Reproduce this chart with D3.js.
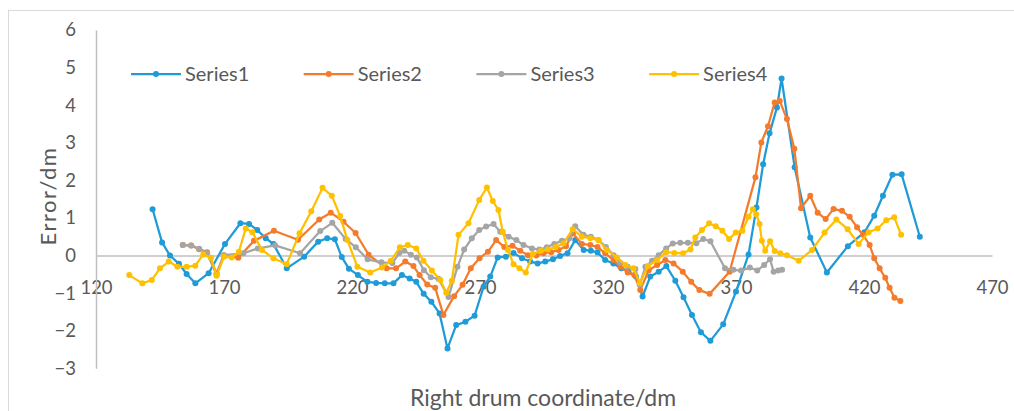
<!DOCTYPE html>
<html>
<head>
<meta charset="utf-8">
<script src="https://cdn.jsdelivr.net/npm/d3@7"></script>
<style>
  body { margin: 0; background: #fff; }
  svg { display: block; font-family: Lato, "Open Sans", sans-serif; }
</style>
</head>
<body>
<svg width="1014" height="411"></svg>
<script>
var screen = {width: 1014, height: 411}
var margin = {top: 30, right: 22, bottom: 43, left: 96}

// data
var seriesNames = ["Series1", "Series2", "Series3", "Series4"]
var xTicks = [120, 170, 220, 270, 320, 370, 420, 470]
var yTicks = [-3, -2, -1, 0, 1, 2, 3, 4, 5, 6]

var s1x = [142.1,145.8,148.9,152.4,155.4,158.8,164.0,170.4,176.4,179.8,183.0,186.3,189.3,194.5,201.3,206.8,210.3,213.3,216.0,218.8,222.3,226.0,229.4,232.8,236.2,239.5,242.5,245.1,248.0,251.0,254.2,257.3,260.7,264.3,267.9,271.4,274.0,276.9,280.1,283.1,286.4,289.6,292.5,295.5,298.5,301.3,304.2,307.2,310.5,313.3,315.9,318.9,322.1,325.2,328.0,330.9,333.5,336.5,339.8,342.8,346.3,349.5,352.8,356.3,360.0,365.0,370.0,374.9,378.0,380.6,383.1,386.0,387.8,392.9,399.0,405.5,413.7,420.2,424.0,427.4,431.1,434.7,441.8]
var s1y = [1.23,0.35,0.00,-0.22,-0.49,-0.74,-0.47,0.31,0.86,0.84,0.68,0.46,0.31,-0.34,-0.03,0.37,0.46,0.43,-0.04,-0.35,-0.52,-0.70,-0.73,-0.74,-0.74,-0.52,-0.61,-0.70,-1.02,-1.23,-1.54,-2.47,-1.85,-1.76,-1.60,-0.83,-0.56,-0.05,-0.03,0.07,-0.07,-0.16,-0.21,-0.16,-0.10,-0.01,0.06,0.41,0.15,0.13,0.08,-0.12,-0.21,-0.34,-0.43,-0.56,-1.09,-0.56,-0.43,-0.28,-0.67,-1.11,-1.58,-2.04,-2.27,-1.83,-0.96,0.03,1.28,2.43,3.25,3.94,4.71,2.35,0.48,-0.45,0.25,0.62,1.06,1.59,2.15,2.16,0.50]

var s2x = [153.9,157.2,160.3,163.4,167.1,170.0,175.6,181.7,189.5,198.9,207.2,211.7,216.7,221.4,226.5,233.5,237.2,240.8,244.0,246.4,249.4,252.5,255.7,259.9,263.2,266.4,269.8,273.1,276.3,279.5,282.7,285.7,288.7,292.0,294.8,297.8,300.7,303.6,306.3,309.8,313.1,315.9,318.9,322.2,324.8,327.7,330.3,332.6,335.9,339.2,342.4,345.6,349.2,352.5,355.7,359.7,367.5,377.6,379.9,382.5,385.1,387.1,389.9,392.8,395.4,399.0,401.9,405.0,408.1,411.4,414.4,417.3,419.6,422.2,424.0,426.1,428.3,430.0,431.9,434.2]
var s2y = [0.28,0.27,0.17,0.09,-0.47,0.01,-0.06,0.39,0.66,0.42,0.96,1.14,0.90,0.60,0.02,-0.34,-0.34,-0.16,-0.28,-0.52,-0.77,-0.86,-1.58,-1.08,-0.78,-0.34,-0.07,0.10,0.41,0.23,0.26,0.13,0.01,0.00,0.06,0.09,0.15,0.25,0.59,0.31,0.28,0.23,0.06,-0.12,-0.30,-0.45,-0.52,-0.92,-0.39,-0.25,-0.12,-0.21,-0.43,-0.70,-0.92,-1.02,-0.43,2.08,3.01,3.44,4.07,4.11,3.63,2.84,1.26,1.59,1.14,0.97,1.24,1.19,1.03,0.75,0.55,0.28,-0.07,-0.34,-0.59,-0.86,-1.12,-1.21]

var s3x = [153.9,157.1,160.3,163.4,167.1,169.8,177.6,183.2,190.0,199.7,207.6,212.3,217.5,221.5,226.1,231.5,235.8,238.5,240.4,243.0,245.3,248.1,250.8,253.8,257.7,261.2,263.8,266.8,269.7,272.4,275.3,277.9,281.2,284.2,287.0,290.3,293.2,296.1,299.0,302.0,304.9,307.2,310.4,313.3,316.3,319.2,322.2,324.8,327.7,330.7,332.4,334.6,337.2,339.8,342.7,345.3,348.2,351.2,354.5,357.2,360.0,365.7,369.0,372.0,375.4,378.3,381.0,383.3,384.7,386.5,388.0]
var s3y = [0.28,0.27,0.18,0.06,-0.52,0.01,0.06,0.19,0.27,0.06,0.65,0.87,0.44,0.22,-0.10,-0.18,-0.20,0.07,0.13,0.02,-0.05,-0.39,-0.58,-0.62,-1.10,-0.30,0.16,0.46,0.68,0.77,0.84,0.63,0.50,0.41,0.28,0.19,0.16,0.22,0.31,0.39,0.46,0.78,0.55,0.50,0.41,0.23,0.01,-0.19,-0.30,-0.36,-0.78,-0.30,-0.14,0.01,0.19,0.32,0.34,0.34,0.33,0.44,0.38,-0.34,-0.38,-0.40,-0.32,-0.40,-0.25,-0.10,-0.43,-0.40,-0.38]

var s4x = [133.0,138.1,141.8,145.0,148.4,151.8,155.4,158.8,161.9,164.9,167.1,170.0,173.0,175.8,178.5,181.1,184.8,189.3,194.5,199.5,204.1,208.5,212.1,215.4,218.2,222.1,227.1,231.7,235.2,238.7,241.8,245.1,247.9,251.2,254.5,256.8,259.0,261.6,265.5,269.7,272.7,275.0,277.2,278.9,280.9,283.1,285.4,287.9,290.6,293.8,296.5,299.6,302.6,306.2,309.8,313.1,316.3,319.6,323.5,326.8,330.0,332.4,335.6,339.2,342.7,345.9,349.3,352.2,354.1,356.7,359.5,362.1,364.7,367.3,369.9,372.5,374.9,376.6,377.9,379.2,380.1,381.4,383.3,385.1,387.3,389.9,394.5,399.7,404.6,409.2,413.6,417.9,421.8,425.3,428.7,431.8,434.5]
var s4y = [-0.52,-0.74,-0.65,-0.34,-0.16,-0.30,-0.30,-0.27,0.03,-0.06,-0.54,-0.03,-0.05,0.10,0.72,0.62,0.15,-0.07,-0.23,0.59,1.18,1.80,1.59,1.05,0.41,-0.30,-0.45,-0.32,-0.14,0.22,0.28,0.19,-0.14,-0.40,-0.65,-0.99,-0.67,0.55,0.86,1.48,1.81,1.45,1.21,0.63,0.15,-0.23,-0.34,-0.45,0.04,0.13,0.16,0.23,0.32,0.70,0.50,0.46,0.41,0.15,-0.05,-0.25,-0.34,-0.74,-0.28,-0.12,0.09,0.07,0.06,0.16,0.48,0.68,0.86,0.78,0.66,0.44,0.61,0.66,1.03,1.23,1.10,0.84,0.39,0.13,0.38,0.12,0.06,0.01,-0.14,0.15,0.61,0.96,0.70,0.31,0.62,0.72,0.94,1.02,0.55]

var colors = ["#1f9bd7", "#f47b2c", "#a5a5a5", "#ffc000"]

var zip = function(xs, ys) { return xs.map(function(x, i) { return {x: x, y: ys[i]} }) }
var series = [zip(s1x, s1y), zip(s2x, s2y), zip(s3x, s3y), zip(s4x, s4y)]

var svg = d3.select("svg")
var width = screen.width - margin.left - margin.right
var height = screen.height - margin.top - margin.bottom

// chart area border (runs off the right and bottom edges)
svg.append("rect")
    .attr("x", 8.5).attr("y", 10.5)
    .attr("width", 1020).attr("height", 420)
    .attr("fill", "none").attr("stroke", "#d9d9d9")

var xScale = d3.scaleLinear().domain([120, 470]).range([margin.left, margin.left + 896])
var yScale = d3.scaleLinear().domain([-3, 6]).range([368.3, margin.top])

var xAxis = d3.axisBottom(xScale).tickValues(xTicks).tickSize(0).tickSizeOuter(0).tickPadding(25)
var yAxis = d3.axisLeft(yScale).tickValues(yTicks).tickSize(0).tickSizeOuter(0).tickPadding(20)

var gx = svg.append("g")
    .attr("transform", "translate(0," + yScale(0) + ")")
    .call(xAxis)
var gy = svg.append("g")
    .attr("transform", "translate(" + margin.left + ",0)")
    .call(yAxis)

svg.selectAll(".domain").attr("stroke", "#bfbfbf").attr("stroke-width", 1.5)
svg.selectAll(".tick text")
    .attr("fill", "#595959")
    .style("font-size", "18.5px")
    .style("font-family", "Lato")

// axis titles
svg.append("text")
    .attr("x", 543).attr("y", 406)
    .attr("text-anchor", "middle")
    .attr("fill", "#595959")
    .style("font-size", "23px")
    .text("Right drum coordinate/dm")

svg.append("text")
    .attr("transform", "translate(56,196) rotate(-90)")
    .attr("text-anchor", "middle")
    .attr("fill", "#595959")
    .style("font-size", "22px")
    .style("letter-spacing", "1.5px")
    .text("Error/dm")

var line = d3.line().x(function(d) { return xScale(d.x) }).y(function(d) { return yScale(d.y) })

series.forEach(function(data, i) {
    var g = svg.append("g").attr("class", "series" + (i + 1))
    g.append("path")
        .datum(data)
        .attr("d", line)
        .attr("fill", "none")
        .attr("stroke", colors[i])
        .attr("stroke-width", 2.25)
        .attr("stroke-linejoin", "round")
    g.selectAll("circle").data(data).enter().append("circle")
        .attr("cx", function(d) { return xScale(d.x) })
        .attr("cy", function(d) { return yScale(d.y) })
        .attr("r", 3)
        .attr("fill", colors[i])
})

// legend
var legend = svg.append("g").attr("transform", "translate(131,74)")
var items = legend.selectAll("g").data(seriesNames).enter().append("g")
    .attr("transform", function(d, i) { return "translate(" + (i * 172.7) + ",0)" })
items.append("line")
    .attr("x1", 0).attr("x2", 50)
    .attr("stroke", function(d, i) { return colors[i] })
    .attr("stroke-width", 2.25)
items.append("circle")
    .attr("cx", 25).attr("r", 3)
    .attr("fill", function(d, i) { return colors[i] })
items.append("text")
    .attr("x", 54).attr("y", 7)
    .attr("fill", "#595959")
    .style("font-size", "20px")
    .text(function(d) { return d })
</script>
</body>
</html>
